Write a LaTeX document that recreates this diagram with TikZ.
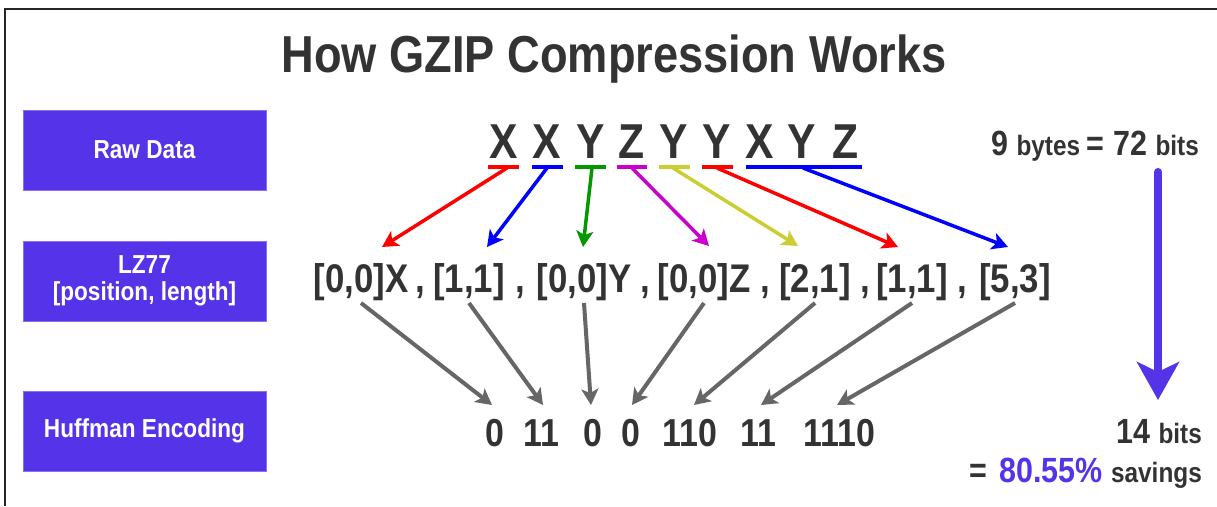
\documentclass[tikz,border=0pt]{standalone}
\usepackage{fontspec}
\setmainfont[FakeStretch=0.87]{Liberation Sans}
\usetikzlibrary{arrows.meta}
\definecolor{ink}{HTML}{333333}
\definecolor{brand}{HTML}{5533E8}
\definecolor{arrgray}{HTML}{666666}
\definecolor{cred}{HTML}{FF0000}
\definecolor{cblue}{HTML}{0000FF}
\definecolor{cgreen}{HTML}{009900}
\definecolor{cmag}{HTML}{CC00CC}
\definecolor{cyel}{HTML}{CCCC33}
\newcommand{\fs}[1]{\fontsize{#1}{#1}\selectfont}
\tikzset{
  stagebox/.style={fill=brand, draw=brand!70!white, line width=0.8pt, minimum width=243pt, minimum height=80pt, inner sep=0pt, text=white, font=\fs{26}\bfseries, align=center},
  rawch/.style={anchor=base, inner sep=0pt, text=ink, font=\fs{49}\bfseries},
  tok/.style={anchor=base, inner sep=0pt, text=ink, font=\fs{40}\bfseries},
  code/.style={anchor=base, inner sep=0pt, text=ink, font=\fs{39}\bfseries},
  uline/.style={line width=4pt},
  carrow/.style={line width=3.5pt, -{Stealth[length=16pt,width=17pt,inset=4pt]}},
  garrow/.style={arrgray, line width=4pt, -{Stealth[length=16pt,width=17pt,inset=4pt]}},
  rtext/.style={anchor=base east, inner sep=0pt, text=ink, font=\bfseries},
}
\begin{document}
\begin{tikzpicture}[x=1pt,y=-1pt]
\useasboundingbox (0,0) rectangle (1217,506);
\fill[white] (0,0) rectangle (1217,506);
\draw[line width=2pt, black!85] (5,506) -- (5,9) -- (1217,9);

\node[anchor=base, inner sep=0pt, text=ink, font=\fs{52}\bfseries] (title) at (614,72) {How GZIP Compression Works};

\node[stagebox] (raw) at (144.5,150) {Raw Data};
\node[stagebox] (lz) at (144.5,281) {LZ77\\[1pt][position, length]};
\node[stagebox] (huff) at (144.5,431) {Huffman Encoding};

% raw data letters
\node[rawch] (r1) at (504,158) {X};
\node[rawch] (r2) at (547,158) {X};
\node[rawch] (r3) at (591,158) {Y};
\node[rawch] (r4) at (632,158) {Z};
\node[rawch] (r5) at (674,158) {Y};
\node[rawch] (r6) at (717,158) {Y};
\node[rawch] (r7) at (760,158) {X};
\node[rawch] (r8) at (802,158) {Y};
\node[rawch] (r9) at (846,158) {Z};

% underlines
\draw[uline, cred]   (488,167) -- (519,167);
\draw[uline, cblue]  (532,167) -- (563,167);
\draw[uline, cgreen] (575,167) -- (606,167);
\draw[uline, cmag]   (617,167) -- (647,167);
\draw[uline, cyel]   (659,167) -- (690,167);
\draw[uline, cred]   (702,167) -- (733,167);
\draw[uline, cblue]  (746,167) -- (862,167);

% LZ77 tokens
\node[tok] (t1) at (361,292) {[0,0]X};
\node[tok] (c1) at (420,292) {,};
\node[tok] (t2) at (469,292) {[1,1]};
\node[tok] (c2) at (520,292) {,};
\node[tok] (t3) at (584,292) {[0,0]Y};
\node[tok] (c3) at (645,292) {,};
\node[tok] (t4) at (704,292) {[0,0]Z};
\node[tok] (c4) at (765,292) {,};
\node[tok] (t5) at (815,292) {[2,1]};
\node[tok] (c5) at (865,292) {,};
\node[tok] (t6) at (912,292) {[1,1]};
\node[tok] (c6) at (962,292) {,};
\node[tok] (t7) at (1015,292) {[5,3]};

% Huffman codes
\node[code] (h1) at (495,446) {0};
\node[code] (h2) at (541,446) {11};
\node[code] (h3) at (593,446) {0};
\node[code] (h4) at (631,446) {0};
\node[code] (h5) at (690,446) {110};
\node[code] (h6) at (758,446) {11};
\node[code] (h7) at (839,446) {1110};

% coloured arrows: underline -> token
\coordinate (s1) at (507,168); \coordinate (e1) at (382,247);
\coordinate (s2) at (547,168); \coordinate (e2) at (487,247);
\coordinate (s3) at (592,168); \coordinate (e3) at (583,247);
\coordinate (s4) at (632,168); \coordinate (e4) at (709,246);
\coordinate (s5) at (673,168); \coordinate (e5) at (798,246);
\coordinate (s6) at (717,168); \coordinate (e6) at (898,247);
\coordinate (s7) at (803,168); \coordinate (e7) at (1008,247);
\draw[carrow, cred]   (s1) -- (e1);
\draw[carrow, cblue]  (s2) -- (e2);
\draw[carrow, cgreen] (s3) -- (e3);
\draw[carrow, cmag]   (s4) -- (e4);
\draw[carrow, cyel]   (s5) -- (e5);
\draw[carrow, cred]   (s6) -- (e6);
\draw[carrow, cblue]  (s7) -- (e7);

% gray arrows: token -> code
\draw[garrow] (t1 |- 0,303) -- (492,405);
\draw[garrow] (t2 |- 0,303) -- (543,405);
\draw[garrow] (t3 |- 0,303) -- (591,405);
\draw[garrow] (t4 |- 0,303) -- (632,405);
\draw[garrow] (t5 |- 0,303) -- (694,405);
\draw[garrow] (t6 |- 0,303) -- (761,405);
\draw[garrow] (t7 |- 0,303) -- (837,405);

% right side
\node[rtext] (before) at (1199,155) {\fs{35}9 \fs{28}bytes \fs{35}= 72 \fs{28}bits};
\node[rtext] (after) at (1202,443) {\fs{35}14 \fs{28}bits};
\node[rtext] (saving) at (1202,482) {\fs{35}=\hspace{4pt} \textcolor{brand}{80.55\%} \fs{28}savings};
\coordinate (pa) at (1158,172);
\coordinate (pb) at (1158,400);
\draw[brand, line width=8pt, line cap=round, -{Stealth[length=38pt,width=42pt,inset=10pt]}] (pa) -- (pb);
\end{tikzpicture}
\end{document}
